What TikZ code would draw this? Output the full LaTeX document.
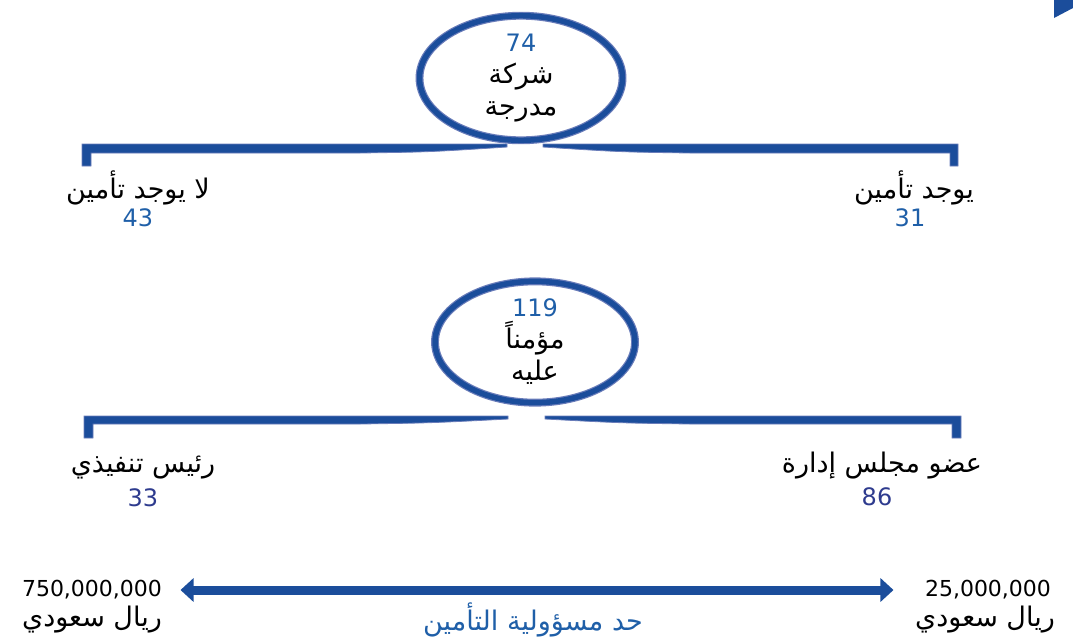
\documentclass[tikz,border=0pt]{standalone}
\usepackage{fontspec}
\TeXXeTstate=1
\newfontfamily\arfont[Script=Arabic]{DejaVu Sans}
\newfontfamily\numfont{DejaVu Sans}
\usetikzlibrary{shapes.geometric}
\usetikzlibrary{arrows.meta}
\usetikzlibrary{positioning}
\definecolor{ringblue}{HTML}{1B4D9B}
\definecolor{edgeblue}{HTML}{6A7DBA}
\definecolor{numblue}{HTML}{1F5FA8}
\definecolor{navy}{HTML}{2E3B8E}

\begin{document}
\begin{tikzpicture}[x=1pt, y=-1pt,
    ring/.style={ellipse, draw=edgeblue, line width=1.2pt, double=ringblue, double distance=5.5pt, align=center, inner sep=0pt, font=\arfont\fontsize{27}{32}\selectfont},
    brace/.style={fill=ringblue, draw=edgeblue, line width=0.8pt},
    arlabel/.style={font=\arfont\fontsize{27}{30}\selectfont},
    numlabel/.style={font=\numfont\fontsize{24}{26}\selectfont, text=numblue},
    limlabel/.style={font=\numfont\fontsize{22}{26}\selectfont},
    limit/.style={line width=9pt, draw=ringblue, {Triangle[length=13pt,width=23pt]}-{Triangle[length=13pt,width=23pt]}}]
\useasboundingbox (0,0) rectangle (1073,638);

% corner mark
\fill[ringblue] (1054,0) -- (1054,18) -- (1073,8) -- (1073,0) -- cycle;

% listed companies
\node[ring, minimum width=203pt, minimum height=122pt] (listed) at (521,78) {{\numfont\fontsize{24}{32}\selectfont\color{numblue}74}\\\beginR شركة\endR\\\beginR مدرجة\endR};
\fill[brace] (507,144) -- (82,144) -- (82,166) -- (91,166) -- (91,153) -- (360,153) .. controls (430,152) .. (507,147) -- cycle;
\fill[brace] (543,144) -- (958,144) -- (958,166) -- (950,166) -- (950,153) -- (690,153) .. controls (620,152) .. (543,147) -- cycle;

\node[arlabel] (noins) at (138,188) {\beginR لا يوجد تأمين\endR};
\node[numlabel] (noinsnum) at (138,218) {43};
\node[arlabel] (ins) at (914,188) {\beginR يوجد تأمين\endR};
\node[numlabel] (insnum) at (910,218) {31};

% insured persons
\node[ring, minimum width=200pt, minimum height=119pt] (insured) at (535,342) {{\numfont\fontsize{24}{32}\selectfont\color{numblue}119}\\\beginR مؤمناً\endR\\\beginR عليه\endR};
\fill[brace] (508,416) -- (84,416) -- (84,438) -- (93,438) -- (93,424) -- (360,424) .. controls (430,423) .. (508,419) -- cycle;
\fill[brace] (545,416) -- (961,416) -- (961,438) -- (952,438) -- (952,424) -- (690,424) .. controls (620,423) .. (545,419) -- cycle;

\node[arlabel] (ceo) at (143,468) {\beginR رئيس تنفيذي\endR};
\node[numlabel, text=navy] (ceonum) at (143,498) {33};
\node[arlabel] (board) at (882,466) {\beginR عضو مجلس إدارة\endR};
\node[numlabel, text=navy] (boardnum) at (877,497) {86};

% coverage limit
\node[limlabel] (maxlim) at (92,590) {750,000,000};
\node[arlabel] (maxcur) at (92,620) {\beginR ريال سعودي\endR};
\node[limlabel] (minlim) at (988,590) {25,000,000};
\node[arlabel] (mincur) at (985,620) {\beginR ريال سعودي\endR};
\draw[limit, shorten <=15pt, shorten >=28pt] (maxlim) -- (minlim);
\node[arlabel, text=numblue] (limtext) at (533,620) {\beginR حد مسؤولية التأمين\endR};
\end{tikzpicture}
\end{document}
